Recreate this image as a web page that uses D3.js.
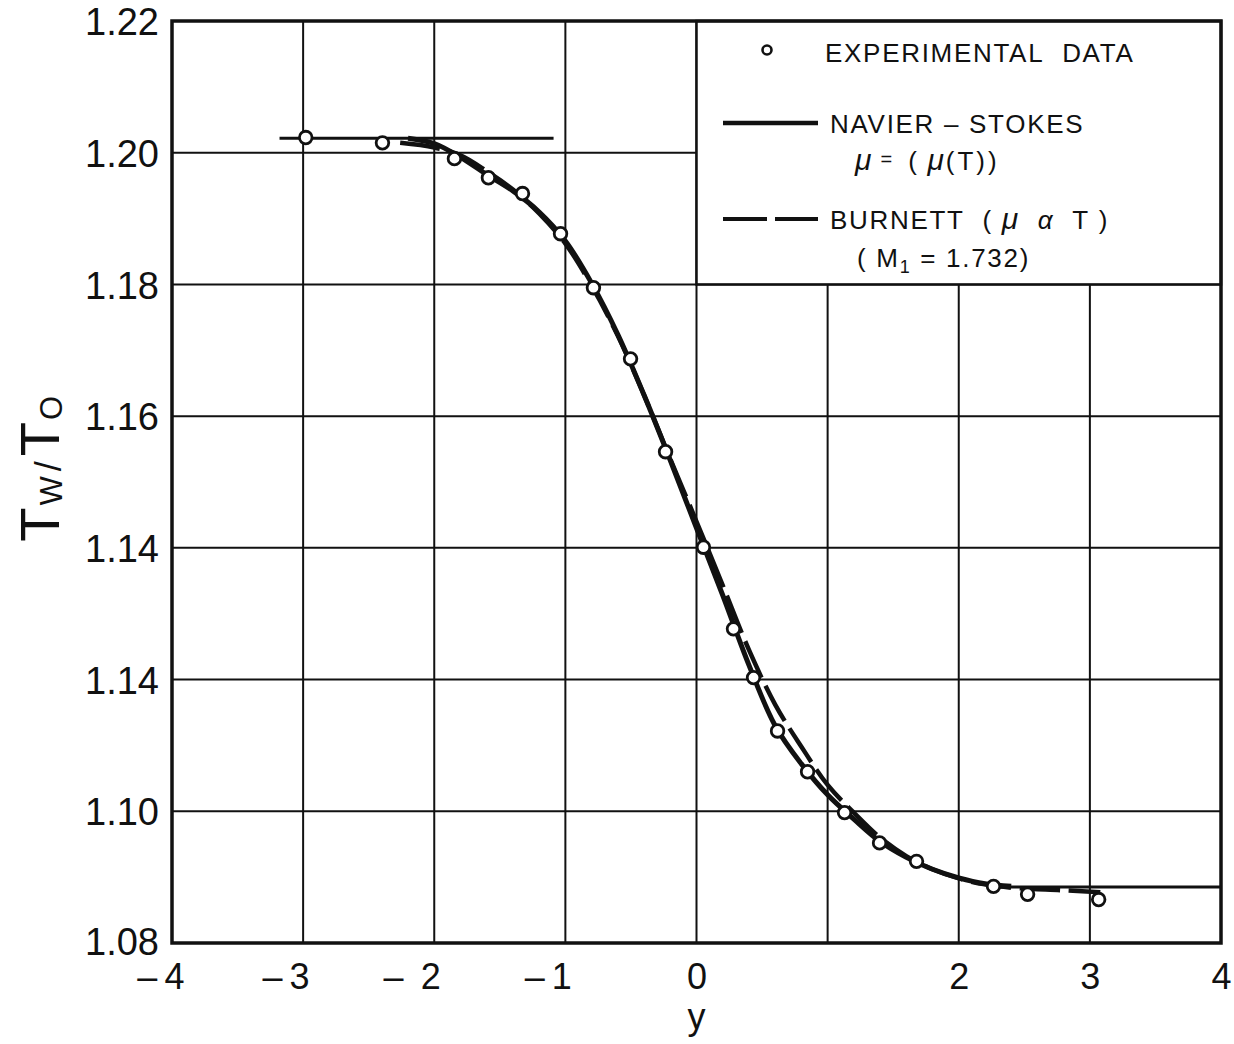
<!DOCTYPE html>
<html>
<head>
<meta charset="utf-8">
<script src="https://cdn.jsdelivr.net/npm/d3@7"></script>
<style>
  body { margin: 0; background: #fff; }
  text { font-family: "Liberation Sans", Arial, sans-serif; fill: #111; }
</style>
</head>
<body>
<div id="main"></div>
<script>
// ticks
const xTicks = [-4, -3, -2, -1, 0, 1, 2, 3, 4];
const xTickLabels = ["-4", "-3", "- 2", "-1", "0", "", "2", "3", "4"];
const yTicks = [1.08, 1.10, 1.12, 1.14, 1.16, 1.18, 1.20, 1.22];
const yTickLabels = ["1.08", "1.10", "1.14", "1.14", "1.16", "1.18", "1.20", "1.22"];

// experimental data
const expX = [-2.98, -2.395, -1.846, -1.587, -1.327, -1.037, -0.786, -0.503, -0.236, 0.053,
              0.282, 0.435, 0.618, 0.847, 1.129, 1.396, 1.678, 2.265, 2.525, 3.067];
const expY = [1.2023, 1.2015, 1.1991, 1.1962, 1.1938, 1.1877, 1.1795, 1.1687, 1.1546, 1.1401,
              1.1277, 1.1203, 1.1122, 1.1060, 1.0998, 1.0952, 1.0924, 1.0886, 1.0874, 1.0866];

// Navier-Stokes, mu = mu(T)
const nsX = [-2.2, -2.0, -1.8, -1.6, -1.4, -1.2, -1.0, -0.8, -0.6, -0.4, -0.2, 0.0,
             0.2, 0.4, 0.6, 0.8, 1.0, 1.2, 1.4, 1.6, 1.8, 2.0, 2.2, 2.4];
const nsY = [1.2022, 1.2014, 1.1993, 1.1967, 1.1942, 1.1910, 1.1866, 1.1802, 1.1724, 1.1632, 1.1533, 1.1430,
             1.1328, 1.1222, 1.1130, 1.1072, 1.1025, 1.0988, 1.0954, 1.0930, 1.0912, 1.0899, 1.0890, 1.0886];
// upstream / downstream levels
const upX = [-3.18, -1.09], upY = [1.2022, 1.2022];
const downX = [2.3, 4.0], downY = [1.0885, 1.0885];

// Burnett (mu alpha T), M1 = 1.732
const bX = [-2.26, -2.0, -1.8, -1.6, -1.4, -1.2, -1.0, -0.8, -0.6, -0.4, -0.2, 0.0,
            0.2, 0.4, 0.6, 0.8, 1.0, 1.2, 1.4, 1.6, 1.8, 2.0, 2.2, 2.4, 2.8, 3.08];
const bY = [1.2015, 1.2008, 1.1996, 1.1972, 1.1944, 1.1908, 1.1862, 1.1798, 1.1722, 1.1632, 1.1535, 1.1440,
            1.1343, 1.1245, 1.1162, 1.1098, 1.1040, 1.0998, 1.0960, 1.0932, 1.0912, 1.0898, 1.0889, 1.0884, 1.0880, 1.0877];

const width = 1234, height = 1044;
const margin = { top: 21, right: 13, bottom: 101, left: 172 };

const svg = d3.select("#main").append("svg")
  .attr("width", width)
  .attr("height", height);

const x = d3.scaleLinear().domain([-4, 4]).range([margin.left, width - margin.right]);
const y = d3.scaleLinear().domain([1.08, 1.22]).range([height - margin.bottom, margin.top]);

// grid
svg.append("g").selectAll("line").data(xTicks.slice(1, -1)).join("line")
  .attr("x1", d => x(d)).attr("x2", d => x(d))
  .attr("y1", y(1.22)).attr("y2", y(1.08))
  .attr("stroke", "#111").attr("stroke-width", 2);
svg.append("g").selectAll("line").data(yTicks.slice(1, -1)).join("line")
  .attr("x1", x(-4)).attr("x2", x(4))
  .attr("y1", d => y(d)).attr("y2", d => y(d))
  .attr("stroke", "#111").attr("stroke-width", 2);

// legend box covers the upper right cells
const legend = svg.append("g");
legend.append("rect")
  .attr("x", x(0)).attr("y", y(1.22))
  .attr("width", x(4) - x(0)).attr("height", y(1.18) - y(1.22))
  .attr("fill", "#fff").attr("stroke", "#111").attr("stroke-width", 2.5);

// frame
svg.append("rect")
  .attr("x", x(-4)).attr("y", y(1.22))
  .attr("width", x(4) - x(-4)).attr("height", y(1.08) - y(1.22))
  .attr("fill", "none").attr("stroke", "#111").attr("stroke-width", 3.5);

// curves
const line = d3.line().x(d => x(d[0])).y(d => y(d[1])).curve(d3.curveCatmullRom);
const zip = (a, b) => a.map((v, i) => [v, b[i]]);

svg.append("path").datum(zip(upX, upY)).attr("d", line)
  .attr("fill", "none").attr("stroke", "#111").attr("stroke-width", 3.2);
svg.append("path").datum(zip(downX, downY)).attr("d", line)
  .attr("fill", "none").attr("stroke", "#111").attr("stroke-width", 3.2);
svg.append("path").datum(zip(nsX, nsY)).attr("d", line)
  .attr("fill", "none").attr("stroke", "#111").attr("stroke-width", 5);
svg.append("path").datum(zip(bX, bY)).attr("d", line)
  .attr("fill", "none").attr("stroke", "#111").attr("stroke-width", 4.5)
  .attr("stroke-dasharray", "40,9");

// experimental points
svg.append("g").selectAll("circle").data(zip(expX, expY)).join("circle")
  .attr("cx", d => x(d[0])).attr("cy", d => y(d[1]))
  .attr("r", 6.3)
  .attr("fill", "#fff").attr("stroke", "#111").attr("stroke-width", 2.8);

// axes labels (ticks without lines)
const xAxis = g => g.attr("transform", `translate(0,${y(1.08)})`)
  .call(d3.axisBottom(x).tickValues(xTicks).tickSize(0)
    .tickFormat((d, i) => xTickLabels[i].replace("-", "\u2013\u2009")))
  .call(g => g.select(".domain").remove())
  .call(g => g.selectAll("text")
    .attr("font-size", "36px")
    .attr("font-family", "Liberation Sans, Arial, sans-serif")
    .attr("fill", "#111")
    .attr("y", 46).attr("dy", 0)
    .attr("text-anchor", (d) => d < 0 ? "end" : "middle")
    .attr("dx", (d) => d === -4 ? 12 : (d < 0 ? 6 : 0)));

const yAxis = g => g.attr("transform", `translate(${x(-4)},0)`)
  .call(d3.axisLeft(y).tickValues(yTicks).tickSize(0).tickFormat((d, i) => yTickLabels[i]))
  .call(g => g.select(".domain").remove())
  .call(g => g.selectAll("text")
    .attr("font-size", "38px")
    .attr("font-family", "Liberation Sans, Arial, sans-serif")
    .attr("fill", "#111")
    .attr("x", -13).attr("dy", (d) => d === 1.08 ? "0.3em" : "0.36em"));

svg.append("g").call(xAxis);
svg.append("g").call(yAxis);

// axis titles
svg.append("text")
  .attr("x", x(0)).attr("y", 1029)
  .attr("text-anchor", "middle")
  .attr("font-size", "36px")
  .text("y");

const yt = svg.append("text")
  .attr("transform", `translate(59,${y(1.152)}) rotate(-90)`)
  .attr("text-anchor", "middle")
  .attr("font-size", "56px");
yt.append("tspan").text("T");
yt.append("tspan").attr("font-size", "31px").attr("dy", 3).attr("dx", 2).text("W");
yt.append("tspan").attr("font-size", "36px").attr("dy", -1).attr("dx", 5).text("/");
yt.append("tspan").attr("dy", -2).attr("dx", 5).text("T");
yt.append("tspan").attr("font-size", "31px").attr("dy", 3).attr("dx", 2).text("O");

// legend entries
legend.append("circle")
  .attr("cx", 767).attr("cy", 50).attr("r", 4.5)
  .attr("fill", "#fff").attr("stroke", "#111").attr("stroke-width", 2.6);
legend.append("line")
  .attr("x1", 723).attr("x2", 818).attr("y1", 123).attr("y2", 123)
  .attr("stroke", "#111").attr("stroke-width", 4.5);
legend.append("line")
  .attr("x1", 723).attr("x2", 818).attr("y1", 219).attr("y2", 219)
  .attr("stroke", "#111").attr("stroke-width", 4)
  .attr("stroke-dasharray", "44,8");

const legText = (tx, ty, s) => legend.append("text")
  .attr("x", tx).attr("y", ty)
  .attr("font-size", "26px")
  .attr("letter-spacing", "1.7px")
  .text(s);

legText(825, 62, "EXPERIMENTAL\u00a0\u00a0DATA");
legText(830, 133, "NAVIER \u2013 STOKES");
const mu = legText(855, 170, "");
mu.append("tspan").attr("font-style", "italic").attr("font-size", "30px").text("\u03bc");
mu.append("tspan").attr("font-size", "20px").attr("dy", -4).text("\u00a0=\u00a0\u00a0");
mu.append("tspan").attr("dy", 4).text("(\u00a0");
mu.append("tspan").attr("font-style", "italic").attr("font-size", "30px").text("\u03bc");
mu.append("tspan").attr("letter-spacing", "3px").text("(T))");
const bu = legText(830, 229, "BURNETT\u00a0\u00a0(\u00a0");
bu.append("tspan").attr("font-style", "italic").attr("font-size", "30px").text("\u03bc");
bu.append("tspan").attr("font-style", "italic").text("\u00a0\u00a0\u03b1\u00a0\u00a0");
bu.append("tspan").text("T\u00a0)");
const m1 = legText(857, 267, "(\u00a0M");
m1.append("tspan").attr("font-size", "18px").attr("dy", 6).text("1");
m1.append("tspan").attr("dy", -6).text("\u00a0=\u00a01.732)");
</script>
</body>
</html>
